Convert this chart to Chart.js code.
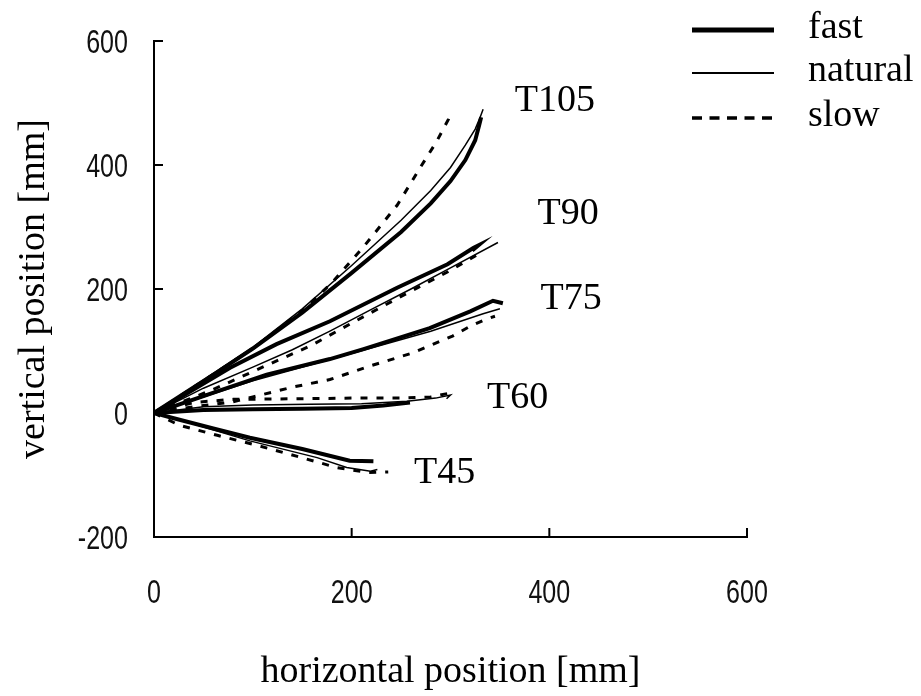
<!DOCTYPE html>
<html>
<head>
<meta charset="utf-8">
<script src="https://cdn.jsdelivr.net/npm/chart.js@4.4.0/dist/chart.umd.min.js"></script>
<style>
  html, body { margin: 0; padding: 0; background: #fff; }
  #wrap { width: 921px; height: 696px; }
</style>
</head>
<body>
<div id="wrap"><canvas id="trajChart"></canvas></div>
<script>
// tick values
const xTicks = [0, 200, 400, 600];
const yTicks = [-200, 0, 200, 400, 600];

const conditions = ['fast', 'natural', 'slow'];
const targets = ['T45', 'T60', 'T75', 'T90', 'T105'];

// hand trajectories [horizontal mm, vertical mm]
const fastT45 = [[0,0],[19,-8],[60,-25],[97,-40],[150,-58],[198,-77],[222,-78]];
const naturalT45 = [[0,0],[30,-13],[97,-45],[165,-72],[195,-88],[219,-94],[226,-91]];
const slowT45 = [[0,0],[26,-20],[64,-36],[104,-52],[145,-70],[185,-88],[216,-96],[237,-95]];

const fastT60 = [[0,0],[50,5],[100,6],[150,7],[200,8],[232,12],[259,17]];
const naturalT60 = [[0,0],[50,10],[100,13],[157,14],[210,15],[256,19],[285,24],[300,29],[296,23]];
const slowT60 = [[0,0],[40,17],[80,22],[150,23],[200,24],[250,24],[280,26],[302,33]];

const fastT75 = [[0,0],[64,35],[114,62],[178,87],[212,103],[279,137],[320,164],[343,181],[353,177]];
const naturalT75 = [[0,0],[100,52],[200,96],[280,132],[333,160],[350,168]];
const slowT75 = [[0,0],[40,10],[80,18],[100,26],[141,42],[178,54],[219,76],[262,97],[302,124],[320,140],[337,152],[345,156]];

const fastT90 = [[0,0],[77,73],[124,111],[178,148],[246,202],[297,240],[323,266],[328,270],[322,262]];
const naturalT90 = [[0,0],[50,40],[100,74],[140,102],[178,132],[220,167],[260,200],[300,234],[348,275]];
const slowT90 = [[0,0],[60,38],[117,79],[158,108],[200,145],[250,188],[300,230],[330,258]];

const fastT105 = [[0,0],[64,66],[100,104],[150,162],[200,226],[250,292],[280,338],[300,374],[315,408],[325,440],[329,464],[331,477]];
const naturalT105 = [[0,0],[60,64],[100,106],[150,168],[200,238],[250,311],[280,359],[300,396],[315,432],[325,458],[330,477],[333,490]];
const slowT105 = [[0,0],[100,104],[150,165],[180,210],[212,268],[246,335],[271,400],[286,438],[298,474],[301,486]];

// where each target name sits (data coords, left/middle of the text)
const targetLabelX = [263, 337, 391, 388, 365];
const targetLabelY = [-97, 24, 184, 321, 503];

const series = {
  fast: [fastT45, fastT60, fastT75, fastT90, fastT105],
  natural: [naturalT45, naturalT60, naturalT75, naturalT90, naturalT105],
  slow: [slowT45, slowT60, slowT75, slowT90, slowT105]
};

const lineStyle = {
  fast: { borderWidth: 4, borderDash: [] },
  natural: { borderWidth: 1.5, borderDash: [] },
  slow: { borderWidth: 3, borderDash: [7, 9] }
};

const serif = "'Liberation Serif', 'Times New Roman', serif";
const sans = "'Liberation Sans', Arial, sans-serif";

const datasets = [];
conditions.forEach(c => {
  series[c].forEach((pts, i) => {
    datasets.push({
      label: c + ' ' + targets[i],
      data: pts.map(p => ({ x: p[0], y: p[1] })),
      showLine: true,
      pointRadius: 0,
      borderColor: '#000',
      borderWidth: lineStyle[c].borderWidth,
      borderDash: lineStyle[c].borderDash,
      borderCapStyle: 'butt',
      tension: 0,
      fill: false
    });
  });
});

// inward tick marks, narrow tick labels, target names and the legend box
const decorPlugin = {
  id: 'decor',
  afterDraw(chart) {
    const ctx = chart.ctx;
    const { left, bottom } = chart.chartArea;
    const xs = chart.scales.x, ys = chart.scales.y;
    ctx.save();
    ctx.strokeStyle = '#000';
    ctx.lineWidth = 2;
    xTicks.forEach(v => {
      const px = xs.getPixelForValue(v);
      ctx.beginPath(); ctx.moveTo(px, bottom); ctx.lineTo(px, bottom - 9); ctx.stroke();
    });
    yTicks.forEach(v => {
      const py = ys.getPixelForValue(v);
      ctx.beginPath(); ctx.moveTo(left, py); ctx.lineTo(left + 9, py); ctx.stroke();
    });

    // tick labels: condensed look of the original
    const sx = 0.76;
    ctx.save();
    ctx.scale(sx, 1);
    ctx.fillStyle = '#111';
    ctx.font = '33px ' + sans;
    ctx.textBaseline = 'middle';
    ctx.textAlign = 'center';
    xTicks.forEach(v => {
      ctx.fillText(String(v), xs.getPixelForValue(v) / sx, bottom + 57);
    });
    ctx.textAlign = 'right';
    yTicks.forEach(v => {
      ctx.fillText(String(v), (left - 26) / sx, ys.getPixelForValue(v) + 3);
    });
    ctx.restore();

    ctx.fillStyle = '#000';
    ctx.font = '38px ' + serif;
    ctx.textAlign = 'left';
    ctx.textBaseline = 'middle';
    targets.forEach((t, i) => {
      ctx.fillText(t, xs.getPixelForValue(targetLabelX[i]), ys.getPixelForValue(targetLabelY[i]));
    });

    // legend
    const rows = [30, 73, 118];
    conditions.forEach((c, i) => {
      ctx.beginPath();
      ctx.lineWidth = c === 'fast' ? 5 : (c === 'natural' ? 2 : 3.5);
      ctx.setLineDash(c === 'slow' ? [10, 7.5] : []);
      ctx.moveTo(692, rows[i]);
      ctx.lineTo(774, rows[i]);
      ctx.stroke();
      ctx.setLineDash([]);
      ctx.fillText(c, 808, rows[i] - 2);
    });
    ctx.restore();
  }
};

new Chart(document.getElementById('trajChart').getContext('2d'), {
  type: 'scatter',
  data: { datasets: datasets },
  options: {
    responsive: true,
    maintainAspectRatio: false,
    animation: false,
    layout: { padding: { top: 41, right: 174, left: 0, bottom: 0 } },
    plugins: {
      legend: { display: false },
      tooltip: { enabled: false }
    },
    scales: {
      x: {
        type: 'linear',
        min: 0, max: 600,
        afterBuildTicks: s => { s.ticks = xTicks.map(v => ({ value: v })); },
        afterFit: s => { s.height = 159; },
        grid: { display: false },
        border: { display: true, color: '#000', width: 2 },
        ticks: { display: false },
        title: {
          display: true,
          text: 'horizontal position [mm]',
          color: '#000',
          font: { family: serif, size: 38 },
          padding: { top: 0, bottom: 1 }
        }
      },
      y: {
        type: 'linear',
        min: -200, max: 600,
        afterBuildTicks: s => { s.ticks = yTicks.map(v => ({ value: v })); },
        afterFit: s => { s.width = 154; },
        grid: { display: false },
        border: { display: true, color: '#000', width: 2 },
        ticks: { display: false },
        title: {
          display: true,
          text: 'vertical position [mm]',
          color: '#000',
          font: { family: serif, size: 38 },
          padding: { top: 11, bottom: 0 }
        }
      }
    }
  },
  plugins: [decorPlugin]
});
</script>
</body>
</html>
